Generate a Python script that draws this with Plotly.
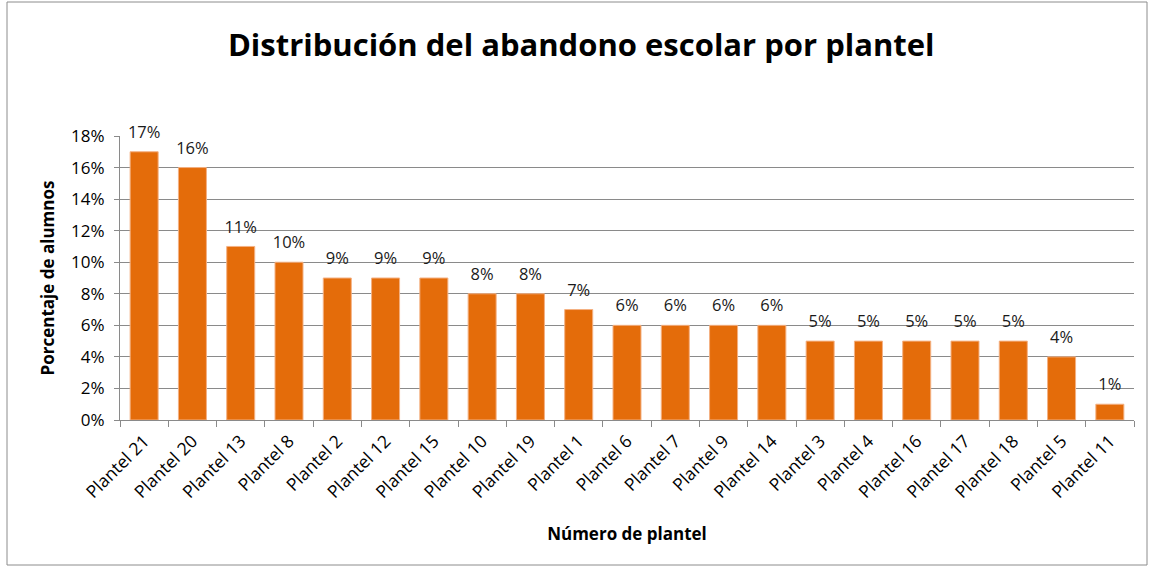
import plotly.graph_objects as go

categories = ["Plantel 21", "Plantel 20", "Plantel 13", "Plantel 8", "Plantel 2", "Plantel 12",
              "Plantel 15", "Plantel 10", "Plantel 19", "Plantel 1", "Plantel 6", "Plantel 7",
              "Plantel 9", "Plantel 14", "Plantel 3", "Plantel 4", "Plantel 16", "Plantel 17",
              "Plantel 18", "Plantel 5", "Plantel 11"]
values = [0.17, 0.16, 0.11, 0.10, 0.09, 0.09, 0.09, 0.08, 0.08, 0.07, 0.06, 0.06,
          0.06, 0.06, 0.05, 0.05, 0.05, 0.05, 0.05, 0.04, 0.01]
y_ticks = [0, 0.02, 0.04, 0.06, 0.08, 0.10, 0.12, 0.14, 0.16, 0.18]

W, H = 1151, 568
L, R, T, B = 120, 17, 136, 148
pw, ph = W - L - R, H - T - B

font = "Open Sans, Liberation Sans, sans-serif"
grid = "#8a8a8a"
labels = [f"{round(v*100)}%" for v in values]

fig = go.Figure()
fig.add_trace(go.Bar(
    x=categories, y=values,
    marker=dict(color="#E46C0A", line=dict(color="#F4B183", width=1)),
))
fig.add_trace(go.Scatter(
    x=categories, y=values, mode="markers+text",
    marker=dict(size=14, opacity=0),
    text=labels, textposition="top center", cliponaxis=False,
    textfont=dict(family=font, size=16.5, color="#1a1a1a"),
    hoverinfo="skip",
))

def px(x):
    return (x - L) / pw

def py(y):
    return (H - B - y) / ph

fig.update_layout(
    width=W, height=H,
    margin=dict(l=L, r=R, t=T, b=B, autoexpand=False),
    paper_bgcolor="white", plot_bgcolor="white",
    bargap=0.42,
    showlegend=False,
    title=dict(text="<b>Distribución del abandono escolar por plantel</b>",
               x=0.505, xanchor="center", y=1 - 45 / H, yanchor="middle",
               font=dict(family=font, size=31, color="black")),
    font=dict(family=font, color="black"),
    xaxis=dict(
        range=[-0.5, len(categories) - 0.5],
        tickangle=-45, tickfont=dict(size=17.5, color="black"),
        ticks="outside", tickson="boundaries", ticklen=6, tickcolor=grid,
        ticklabelstandoff=3,
        showline=True, linecolor=grid, linewidth=1, automargin=False,
        title=dict(text="<b>Número de plantel</b>", font=dict(size=17), standoff=26),
    ),
    yaxis=dict(
        range=[0, 0.18], tickvals=y_ticks, tickformat=".0%",
        tickfont=dict(size=17, color="black"),
        ticks="outside", ticklen=5, tickcolor=grid, ticklabelstandoff=6,
        showline=True, linecolor=grid, linewidth=1, automargin=False,
        showgrid=True, gridcolor=grid, gridwidth=1,
        zeroline=False,
        title=dict(text="<b>Porcentaje de alumnos</b>", font=dict(size=17), standoff=12),
    ),
    shapes=[dict(type="rect", xref="paper", yref="paper",
                 x0=px(7), x1=px(1147), y0=py(565), y1=py(2),
                 line=dict(color="#8c8c8c", width=1), layer="below")],
)

fig.write_html("out.html", config={"displayModeBar": False},
               post_script="document.body.style.margin='0px';")
